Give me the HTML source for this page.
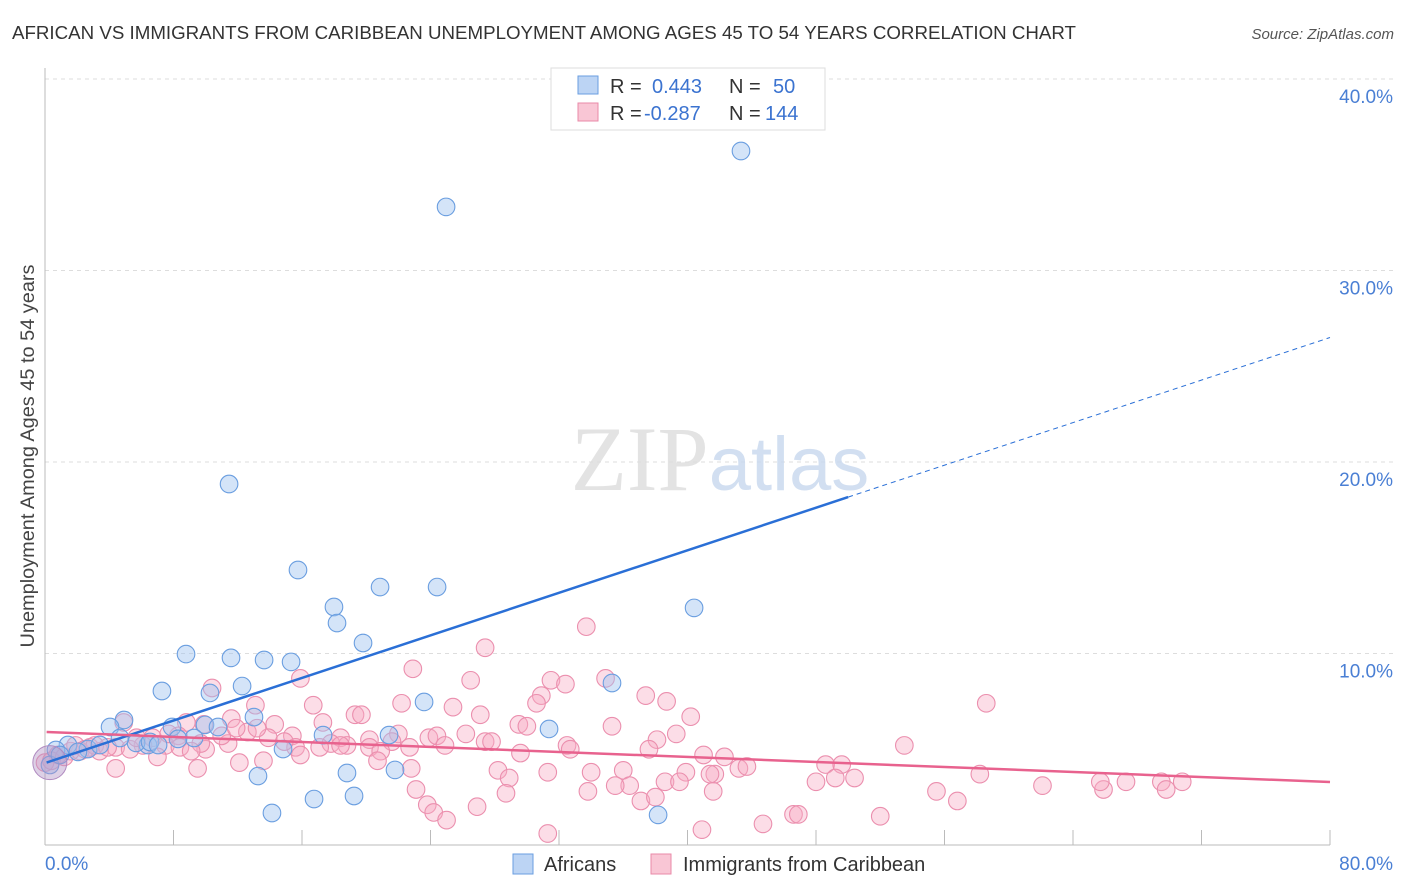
<!DOCTYPE html>
<html><head><meta charset="utf-8"><style>
body{margin:0;background:#fff;font-family:"Liberation Sans",sans-serif}
svg{display:block}
</style></head><body>
<svg id="chart" width="1406" height="892" xmlns="http://www.w3.org/2000/svg">
<text x="12" y="39" font-size="18" fill="#333" textLength="1064" lengthAdjust="spacingAndGlyphs">AFRICAN VS IMMIGRANTS FROM CARIBBEAN UNEMPLOYMENT AMONG AGES 45 TO 54 YEARS CORRELATION CHART</text>
<text x="1394" y="39" font-size="15" fill="#555" text-anchor="end" font-style="italic">Source: ZipAtlas.com</text>
<g id="grid"></g>
<text x="720" y="490" font-size="92" text-anchor="middle" font-family="Liberation Serif" fill="#ddd" opacity="0.8">ZIP<tspan fill="#c8d8ee" font-family="Liberation Sans" font-size="76">atlas</tspan></text>
<g id="pts"></g>
<g id="trends"></g>
<text transform="translate(34,456) rotate(-90)" font-size="19" fill="#444" text-anchor="middle" textLength="383" lengthAdjust="spacingAndGlyphs">Unemployment Among Ages 45 to 54 years</text>
<text x="45" y="870" font-size="19" fill="#4a7fd4">0.0%</text>
<text x="1393" y="870" font-size="19" fill="#4a7fd4" text-anchor="end">80.0%</text>
<g>
<rect x="551" y="68" width="274" height="62" fill="#fff" stroke="#ddd"/>
<rect x="578" y="76" width="20" height="18" fill="#bcd4f4" stroke="#6a9ee0"/>
<rect x="578" y="103" width="20" height="18" fill="#f9c6d5" stroke="#e98aa8"/>
<text x="610" y="93" font-size="20" fill="#333">R = <tspan fill="#3b73d0" x="652">0.443</tspan><tspan x="729" fill="#333">N = </tspan><tspan fill="#3b73d0" x="773">50</tspan></text>
<text x="610" y="120" font-size="20" fill="#333">R = <tspan fill="#3b73d0" x="644">-0.287</tspan><tspan x="729" fill="#333">N = </tspan><tspan fill="#3b73d0" x="765">144</tspan></text>
</g>
<g>
<rect x="513" y="854" width="20" height="20" fill="#bcd4f4" stroke="#6a9ee0"/>
<text x="544" y="871" font-size="20" fill="#333">Africans</text>
<rect x="651" y="854" width="20" height="20" fill="#f9c6d5" stroke="#e98aa8"/>
<text x="683" y="871" font-size="20" fill="#333">Immigrants from Caribbean</text>
</g>
</svg>
<script>
const yTicks=[10,20,30,40];
const yTickLabels=["10.0%","20.0%","30.0%","40.0%"];
const xTicks=[8,16,24,32,40,48,56,64,72,80];
const africanX=[43.33,24.97,11.46,15.75,20.86,24.41,17.99,18.18,40.41,19.80,8.78,11.58,13.64,15.32,7.28,10.27,12.27,23.60,35.30,4.92,4.05,13.01,7.91,9.96,10.77,31.38,21.42,17.31,9.28,8.28,6.41,5.67,1.43,2.68,0.68,14.82,13.26,18.80,21.79,16.75,19.24,14.13,38.17,0.31,0.93,2.05,3.42,6.54,7.04,4.67];
const africanY=[36.24,33.32,18.85,14.36,13.47,13.47,12.43,11.59,12.38,10.55,9.97,9.77,9.66,9.56,8.04,7.94,8.30,7.47,8.46,6.53,6.16,6.68,6.16,6.27,6.16,6.06,5.74,5.74,5.59,5.54,5.22,5.33,5.22,5.01,4.96,5.01,3.60,3.76,3.92,2.40,2.56,1.67,1.57,4.18,4.70,4.86,5.22,5.38,5.22,5.59];
const caribX=[33.7,27.4,22.9,31.5,32.4,26.5,34.9,10.4,15.9,37.4,38.7,30.9,30.6,22.2,25.4,58.6,40.2,13.1,16.7,19.3,19.7,11.6,17.3,27.1,29.5,30.0,35.3,14.3,4.9,8.8,9.9,12.6,13.9,15.4,18.4,20.2,22.0,23.9,24.4,26.2,27.4,21.6,8.3,6.7,11.4,7.5,6.1,17.8,18.8,20.2,20.9,22.7,24.9,27.8,29.6,32.5,32.7,38.1,39.3,41.0,37.6,42.3,53.5,10.0,4.4,3.4,2.8,2.2,1.6,0.8,5.3,9.7,15.6,17.1,18.4,7.0,9.5,4.4,12.1,13.6,15.9,20.7,22.8,28.2,28.9,31.3,34.0,36.0,38.6,39.9,41.7,43.2,43.7,48.6,49.6,49.2,50.4,58.2,62.1,65.9,65.7,67.3,70.8,69.5,69.8,39.5,41.4,36.4,33.8,35.5,28.7,23.1,26.9,23.8,24.2,25.0,37.1,38.0,41.6,48.0,55.5,56.8,31.3,40.9,44.7,46.6,46.9,52.0,0.0,0.4,1.2,1.9,2.5,3.1,3.9,5.7,7.7,8.4,9.1,11.0,11.9,14.9,13.2];
const caribY=[11.4,10.3,9.2,8.6,8.4,8.6,8.7,8.2,8.7,7.8,7.5,7.8,7.4,7.4,7.2,7.4,6.7,7.3,7.3,6.8,6.8,6.6,6.4,6.8,6.3,6.2,6.2,6.3,6.4,6.4,6.3,5.9,5.6,5.7,5.6,5.5,5.8,5.6,5.7,5.8,5.4,5.4,5.7,5.6,5.3,5.2,5.2,5.3,5.2,5.1,4.9,5.1,5.2,5.4,4.8,5.2,5.0,5.5,5.8,4.7,5.0,4.6,5.2,5.0,5.1,4.9,5.1,4.9,4.9,4.7,5.0,5.3,5.1,5.1,5.2,4.6,4.0,4.0,4.3,4.4,4.7,4.4,4.0,3.9,3.5,3.8,3.8,3.9,3.3,3.8,3.7,4.0,4.1,4.2,4.2,3.5,3.5,3.7,3.1,2.9,3.3,3.3,3.3,3.3,2.9,3.3,3.7,3.1,2.8,3.1,2.7,2.9,2.0,2.1,1.7,1.3,2.3,2.5,2.8,3.3,2.8,2.3,0.6,0.8,1.1,1.6,1.6,1.5,4.3,4.4,4.6,5.2,5.0,5.2,5.1,5.6,5.8,5.1,4.9,5.7,6.1,5.4,6.1];
const africanTrend=[4.28,26.5];
const caribTrend=[5.9,3.29];
const NS="http://www.w3.org/2000/svg";
const X0=45,X1=1330,Y0=845,YT=79;
const sx=v=>X0+v/80*(X1-X0);
const sy=v=>Y0-v/40*(Y0-YT);
function mk(t,a,p){const e=document.createElementNS(NS,t);for(const k in a)e.setAttribute(k,a[k]);p.appendChild(e);return e;}
const grid=document.getElementById('grid');
yTicks.forEach((t,i)=>{
  const l=mk('line',{x1:X0,x2:1393,y1:sy(t),y2:sy(t),stroke:'#ddd','stroke-dasharray':'4,4'},grid);
  
  
  const tx=mk('text',{x:1393,y:sy(t)+24,'font-size':19,fill:'#4a7fd4','text-anchor':'end'},grid);
  tx.textContent=yTickLabels[i];
  
  
});
const ax=mk('line',{x1:X0,x2:X0,y1:68,y2:Y0,stroke:'#bbb'},grid);


const bx=mk('line',{x1:X0,x2:X1,y1:Y0,y2:Y0,stroke:'#bbb'},grid);


xTicks.forEach(t=>{
  const l=mk('line',{x1:sx(t),x2:sx(t),y1:830,y2:Y0,stroke:'#bbb'},grid);
  
  
});
const pts=document.getElementById('pts');
caribX.forEach((x,i)=>{
  const c=mk('circle',{cx:sx(x),cy:sy(caribY[i]),r:8.8,fill:'rgba(247,170,195,0.4)',stroke:'#eb8fae','stroke-width':1.1},pts);
  
  
});
africanX.forEach((x,i)=>{
  const c=mk('circle',{cx:sx(x),cy:sy(africanY[i]),r:8.8,fill:'rgba(160,195,240,0.45)',stroke:'#6a9ee0','stroke-width':1.1},pts);
  
  
});
const big=mk('circle',{cx:sx(0.3),cy:sy(4.3),r:17,fill:'rgba(180,150,200,0.45)',stroke:'#b08ac0'},pts);


const tr=document.getElementById('trends');
const ab=(v)=>africanTrend[0]+(africanTrend[1]-africanTrend[0])*v/80;
const t1=mk('line',{x1:sx(0.1),y1:sy(ab(0.1)),x2:sx(50),y2:sy(ab(50)),stroke:'#2a6fd6','stroke-width':2.5},tr);


const t2=mk('line',{x1:sx(50),y1:sy(ab(50)),x2:sx(80),y2:sy(ab(80)),stroke:'#2a6fd6','stroke-width':1,'stroke-dasharray':'5,4'},tr);


const t3=mk('line',{x1:sx(0.1),y1:sy(caribTrend[0]),x2:sx(80),y2:sy(caribTrend[1]),stroke:'#e8628e','stroke-width':2.5},tr);


</script>
</body></html>
